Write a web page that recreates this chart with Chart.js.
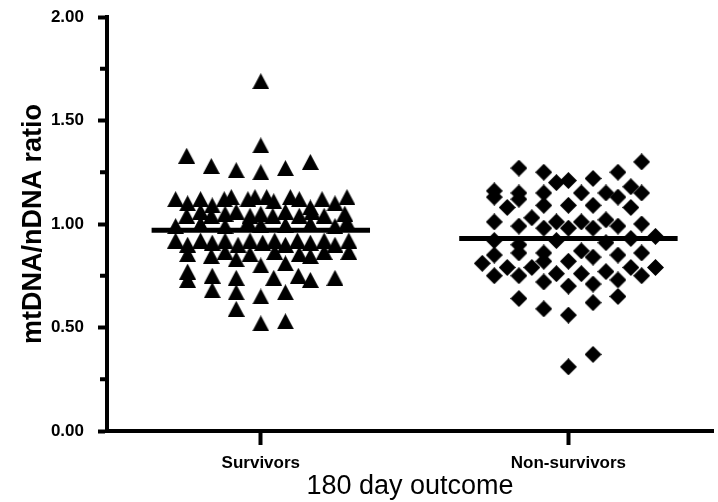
<!DOCTYPE html>
<html><head><meta charset="utf-8">
<script src="https://cdn.jsdelivr.net/npm/chart.js@4.4.1/dist/chart.umd.min.js"></script>
<style>html,body{margin:0;padding:0;background:#fff}</style>
</head><body>
<canvas id="c" width="718" height="502"></canvas>
<script>
const categories = ['Survivors', 'Non-survivors'];
const yTickValues = [0, 0.5, 1, 1.5, 2];
const yMinorTickValues = [0.25, 0.75, 1.25, 1.75];
const medians = [0.97, 0.93];

const survivorsValues = [
  1.69, 1.33, 1.38, 1.28, 1.26, 1.25, 1.27, 1.30,
  1.12, 1.10, 1.12, 1.09, 1.12, 1.13, 1.12, 1.13, 1.13, 1.11, 1.13, 1.12, 1.08, 1.12, 1.10, 1.13,
  1.04, 1.06, 1.04, 1.05, 1.06, 1.04, 1.05, 1.04, 1.06, 1.04, 1.06, 1.04, 1.05,
  0.99, 1.00, 0.99, 1.01, 0.995, 0.995, 1.00, 0.99, 1.01,
  0.92, 0.90, 0.92, 0.91, 0.92, 0.90, 0.92, 0.91, 0.92, 0.90, 0.92, 0.91, 0.92, 0.90, 0.92,
  0.855, 0.845, 0.865, 0.855, 0.865, 0.855, 0.845, 0.865, 0.865,
  0.83, 0.80, 0.81, 0.77, 0.73, 0.75, 0.74, 0.74, 0.75, 0.73, 0.74, 0.68, 0.67, 0.65, 0.67, 0.59, 0.52, 0.53
];
const survivorsJitter = [
  0, -0.241, 0, -0.161, -0.080, 0, 0.080, 0.161,
  -0.277, -0.238, -0.196, -0.158, -0.119, -0.096, -0.042, -0.019, 0.019, 0.042, 0.096, 0.125, 0.161, 0.199, 0.241, 0.280,
  -0.241, -0.196, -0.161, -0.116, -0.080, -0.035, 0, 0.039, 0.080, 0.125, 0.167, 0.206, 0.273,
  -0.277, -0.196, -0.116, -0.042, 0, 0.080, 0.161, 0.241, 0.280,
  -0.277, -0.238, -0.196, -0.158, -0.116, -0.074, -0.035, 0.006, 0.045, 0.080, 0.119, 0.161, 0.206, 0.241, 0.286,
  -0.238, -0.161, -0.116, -0.035, 0.045, 0.125, 0.161, 0.206, 0.286,
  -0.080, 0, 0.080, -0.238, -0.238, -0.158, -0.080, 0.042, 0.122, 0.161, 0.241, -0.158, -0.080, 0, 0.080, -0.080, 0, 0.080
];

const nonSurvivorsValues = [
  1.27, 1.25, 1.20, 1.21, 1.22, 1.25, 1.30,
  1.16, 1.13, 1.08, 1.15, 1.12, 1.15, 1.09, 1.15, 1.09, 1.09, 1.15, 1.13, 1.18, 1.15, 1.08,
  1.01, 1.03, 0.99, 1.01, 1.01, 1.02, 0.99, 1.00, 0.98, 0.98, 0.98,
  0.92, 0.92, 0.93, 0.94, 0.90, 0.91,
  0.85, 0.86, 0.86, 0.82, 0.87, 0.84, 0.85, 0.86,
  0.81, 0.79, 0.79, 0.82, 0.76, 0.76, 0.77, 0.79, 0.79,
  0.75, 0.75, 0.72, 0.71, 0.73, 0.75, 0.70,
  0.64, 0.59, 0.56, 0.62, 0.65, 0.37, 0.31
];
const nonSurvivorsJitter = [
  -0.161, -0.080, -0.039, 0, 0.080, 0.161, 0.238,
  -0.241, -0.241, -0.199, -0.161, -0.161, -0.080, -0.080, 0.042, 0, 0.080, 0.122, 0.161, 0.203, 0.238, 0.203,
  -0.241, -0.119, -0.161, -0.039, 0.042, 0.122, 0.161, 0.238, -0.080, 0, 0.080,
  -0.241, -0.039, 0.203, 0.283, -0.161, 0.122,
  -0.241, -0.161, -0.080, 0, 0.042, 0.080, 0.161, 0.238,
  -0.280, -0.199, -0.119, -0.080, -0.039, 0.042, 0.122, 0.203, 0.283,
  -0.241, -0.161, -0.080, 0.080, 0.161, 0.238, 0,
  -0.161, -0.080, 0, 0.080, 0.161, 0.080, 0
];
const medianHalfWidth = 0.355;

const FONT = 'Arial, "Liberation Sans", sans-serif';

function makeTriangle() {
  const c = document.createElement('canvas');
  c.width = 17; c.height = 16;
  const g = c.getContext('2d');
  g.fillStyle = '#000';
  g.beginPath(); g.moveTo(8.5, 0); g.lineTo(17, 16); g.lineTo(0, 16); g.closePath(); g.fill();
  return c;
}
function makeDiamond() {
  const c = document.createElement('canvas');
  c.width = 17; c.height = 17;
  const g = c.getContext('2d');
  g.fillStyle = '#000';
  g.beginPath(); g.moveTo(8.5, 0); g.lineTo(17, 8.5); g.lineTo(8.5, 17); g.lineTo(0, 8.5); g.closePath(); g.fill();
  return c;
}

const toPoints = (vals, jit, cat) => vals.map((v, i) => ({x: cat + jit[i], y: v}));

const medianData = (ci) => [
  {x: ci + 1 - medianHalfWidth, y: medians[ci]},
  {x: ci + 1 + medianHalfWidth, y: medians[ci]}
];

const minorTicks = {
  id: 'minorTicks',
  afterDraw(chart) {
    const s = chart.scales.y, ctx = chart.ctx;
    ctx.save();
    ctx.fillStyle = '#000';
    yMinorTickValues.forEach(v => {
      const py = s.getPixelForValue(v);
      ctx.fillRect(s.right - 7, py - 2, 6, 4);
    });
    ctx.restore();
  }
};

new Chart(document.getElementById('c'), {
  type: 'scatter',
  data: {
    datasets: [
      {data: medianData(0), showLine: true, borderColor: '#000', borderWidth: 5, pointRadius: 0, borderCapStyle: 'butt'},
      {data: medianData(1), showLine: true, borderColor: '#000', borderWidth: 5, pointRadius: 0, borderCapStyle: 'butt'},
      {data: toPoints(survivorsValues, survivorsJitter, 1), pointStyle: makeTriangle(), backgroundColor: '#000', borderColor: '#000'},
      {data: toPoints(nonSurvivorsValues, nonSurvivorsJitter, 2), pointStyle: makeDiamond(), backgroundColor: '#000', borderColor: '#000'}
    ]
  },
  options: {
    responsive: false,
    animation: false,
    devicePixelRatio: 1,
    layout: {padding: {top: 17, right: 0, bottom: 0, left: 0}},
    plugins: {legend: {display: false}, tooltip: {enabled: false}},
    scales: {
      x: {
        type: 'linear', min: 0.5, max: 2.47,
        afterBuildTicks: s => { s.ticks = categories.map((c, i) => ({value: i + 1})); },
        afterFit: s => { s.height = 71; s.paddingLeft = 0; s.paddingRight = 0; },
        border: {display: true, color: '#000', width: 4},
        grid: {display: true, drawOnChartArea: false, drawTicks: true, tickLength: 14, tickWidth: 4, tickColor: '#000'},
        ticks: {color: '#000', font: {family: FONT, size: 17, weight: 'bold'}, padding: 8, maxRotation: 0, autoSkip: false,
                callback: v => categories[Math.round(v) - 1] || ''},
        title: {display: true, text: '180 day outcome', color: '#000', font: {family: FONT, size: 27}, padding: {top: 0, bottom: -1}}
      },
      y: {
        min: 0, max: 2,
        afterBuildTicks: s => { s.ticks = yTickValues.map(v => ({value: v})); },
        afterFit: s => { s.width = 107; s.paddingTop = 0; s.paddingBottom = 0; },
        border: {display: true, color: '#000', width: 4},
        grid: {display: true, drawOnChartArea: false, drawTicks: true, tickLength: 9, tickWidth: 4, tickColor: '#000'},
        ticks: {color: '#000', font: {family: FONT, size: 17, weight: 'bold'}, padding: 14, callback: v => Number(v).toFixed(2)},
        title: {display: true, text: 'mtDNA/nDNA ratio', color: '#000', font: {family: FONT, size: 27, weight: 'bold'}, padding: {top: 17, bottom: 0}}
      }
    }
  },
  plugins: [minorTicks]
});
</script>
</body></html>
